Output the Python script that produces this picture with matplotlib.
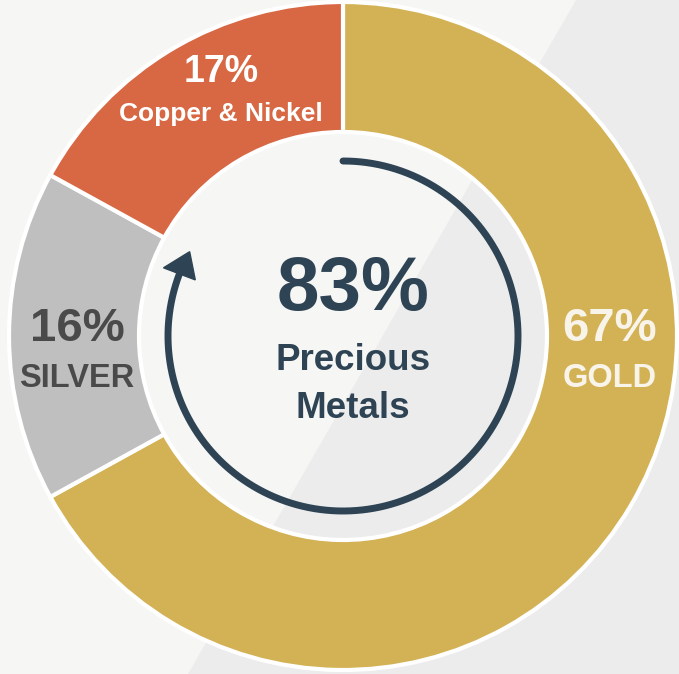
import numpy as np
import matplotlib
matplotlib.use("Agg")
import matplotlib.pyplot as plt
from matplotlib.patches import Polygon

# ------------------------------
# Datos
# ------------------------------
metals = ["GOLD", "SILVER", "Copper & Nickel"]
shares = [67, 16, 17]
colors = ["#d3b155", "#bfbfbf", "#d76843"]
precious = shares[0] + shares[1]

plt.rcParams["font.family"] = ["Liberation Sans", "DejaVu Sans"]
plt.rcParams["font.weight"] = "bold"

W, H = 679, 674
cx, cy = 343, 336
navy = "#2e4454"

fig = plt.figure(figsize=(W / 100, H / 100), dpi=100)
fig.patch.set_facecolor("#f6f6f4")
ax = fig.add_axes([0, 0, 1, 1])
ax.set_xlim(-cx, W - cx)
ax.set_ylim(-(H - cy), cy)
ax.set_aspect("equal")
ax.axis("off")

# fondo con franja diagonal
ax.add_patch(Polygon([(0.848, 1), (1, 1), (1, 0), (0.277, 0)], closed=True,
                     transform=ax.transAxes, facecolor="#ececec",
                     edgecolor="none", zorder=0))

# ------------------------------
# Donut
# ------------------------------
ax.pie(shares, radius=334, startangle=90, counterclock=False, colors=colors,
       wedgeprops=dict(width=130, edgecolor="white", linewidth=3),
       frame=False)
ax.set_xlim(-cx, W - cx)
ax.set_ylim(-(H - cy), cy)

# ------------------------------
# Flecha circular (83%)
# ------------------------------
r_arr = 175
end = 90 - precious / 100 * 360
theta = np.radians(np.linspace(90, end + 7, 300))
ax.plot(r_arr * np.cos(theta), r_arr * np.sin(theta), color=navy, lw=5,
        solid_capstyle="round", zorder=3)
tip = np.radians(end)
base = np.radians(end + 8)
head = [(r_arr * np.cos(tip), r_arr * np.sin(tip)),
        ((r_arr - 17) * np.cos(base), (r_arr - 17) * np.sin(base)),
        ((r_arr + 17) * np.cos(base), (r_arr + 17) * np.sin(base))]
ax.add_patch(Polygon(head, closed=True, facecolor=navy, edgecolor=navy,
                     lw=1, zorder=4))

# ------------------------------
# Textos
# ------------------------------
ax.text(-122, 254, f"{shares[2]}%", ha="center", va="baseline", fontsize=27, color="white")
ax.text(-122, 215, metals[2], ha="center", va="baseline", fontsize=19, color="white")
ax.text(-266, -5, f"{shares[1]}%", ha="center", va="baseline", fontsize=34, color="#4a4a4a")
ax.text(-266, -51, metals[1], ha="center", va="baseline", fontsize=23.5, color="#4a4a4a")
ax.text(267, -5, f"{shares[0]}%", ha="center", va="baseline", fontsize=34, color="#f8f4ea")
ax.text(267, -51, metals[0], ha="center", va="baseline", fontsize=23.5, color="#f8f4ea")

ax.text(10, 26, f"{precious}%", ha="center", va="baseline", fontsize=55, color=navy)
ax.text(10, -34, "Precious", ha="center", va="baseline", fontsize=26.5, color=navy)
ax.text(10, -82, "Metals", ha="center", va="baseline", fontsize=26.5, color=navy)

plt.savefig("out.png", dpi=100, facecolor=fig.get_facecolor())
plt.close()
